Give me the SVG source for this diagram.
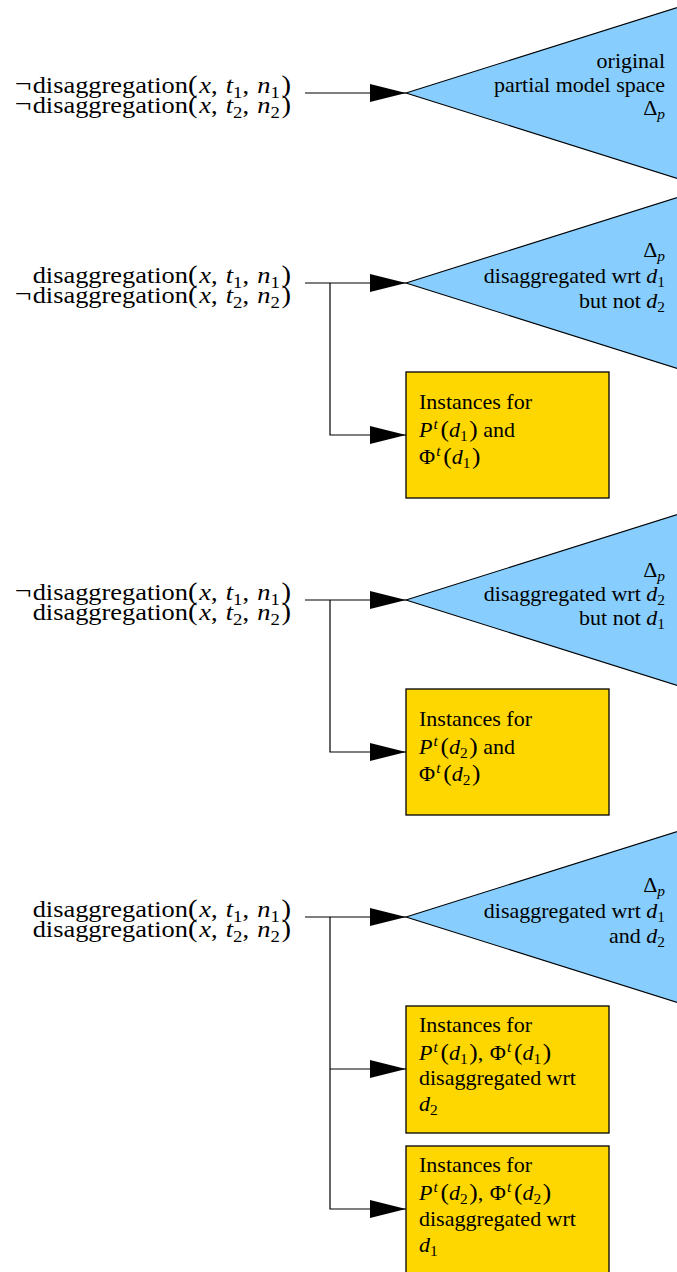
<svg xmlns="http://www.w3.org/2000/svg" width="677" height="1272" viewBox="0 0 677 1272">
  <style>
    text { font-family: 'Liberation Serif', 'Times New Roman', serif; fill: #000; }
    .lbl { font-size: 24px; }
    .txt { font-size: 20px; }
    .i { font-style: italic; }
    .sl { font-size: 17px; }
    .sx { font-size: 14px; }
    .pl { font-size: 26px; }
    .px { font-size: 23px; }
    .neg { font-size: 27px; }
    .tri { fill: #87CEFF; stroke: #000; stroke-width: 1.1; }
    .box { fill: #FFD700; stroke: #000; stroke-width: 1.3; }
    .conn path { fill: none; stroke: #000; stroke-width: 1.2; marker-end: url(#head); }
  </style>
  <defs>
    <marker id="head" markerUnits="userSpaceOnUse" markerWidth="36" markerHeight="18" refX="36" refY="9" orient="auto">
      <path d="M0,0 L36,9 L0,18 z" fill="#000"/>
    </marker>
  </defs>

  <rect width="677" height="1272" fill="#fff"/>

  <!-- condition labels: text block stretched horizontally, right edge at x=291 -->
  <g id="cond1" transform="translate(291 0) scale(1.1 1)">
    <text class="lbl" text-anchor="end" y="93"><tspan class="neg">¬</tspan><tspan dx="1">disaggregation</tspan><tspan class="pl">(</tspan><tspan class="i" dx="1.5">x</tspan>, <tspan class="i" dx="1.5">t</tspan><tspan class="sl" dy="5">1</tspan><tspan dy="-5">, </tspan><tspan class="i" dx="1.5">n</tspan><tspan class="sl" dy="5">1</tspan><tspan class="pl" dy="-5" dx="1.5">)</tspan></text>
    <text class="lbl" text-anchor="end" y="113"><tspan class="neg">¬</tspan><tspan dx="1">disaggregation</tspan><tspan class="pl">(</tspan><tspan class="i" dx="1.5">x</tspan>, <tspan class="i" dx="1.5">t</tspan><tspan class="sl" dy="5">2</tspan><tspan dy="-5">, </tspan><tspan class="i" dx="1.5">n</tspan><tspan class="sl" dy="5">2</tspan><tspan class="pl" dy="-5" dx="1.5">)</tspan></text>
  </g>
  <g id="cond2" transform="translate(291 0) scale(1.1 1)">
    <text class="lbl" text-anchor="end" y="283">disaggregation<tspan class="pl">(</tspan><tspan class="i" dx="1.5">x</tspan>, <tspan class="i" dx="1.5">t</tspan><tspan class="sl" dy="5">1</tspan><tspan dy="-5">, </tspan><tspan class="i" dx="1.5">n</tspan><tspan class="sl" dy="5">1</tspan><tspan class="pl" dy="-5" dx="1.5">)</tspan></text>
    <text class="lbl" text-anchor="end" y="303"><tspan class="neg">¬</tspan><tspan dx="1">disaggregation</tspan><tspan class="pl">(</tspan><tspan class="i" dx="1.5">x</tspan>, <tspan class="i" dx="1.5">t</tspan><tspan class="sl" dy="5">2</tspan><tspan dy="-5">, </tspan><tspan class="i" dx="1.5">n</tspan><tspan class="sl" dy="5">2</tspan><tspan class="pl" dy="-5" dx="1.5">)</tspan></text>
  </g>
  <g id="cond3" transform="translate(291 0) scale(1.1 1)">
    <text class="lbl" text-anchor="end" y="600"><tspan class="neg">¬</tspan><tspan dx="1">disaggregation</tspan><tspan class="pl">(</tspan><tspan class="i" dx="1.5">x</tspan>, <tspan class="i" dx="1.5">t</tspan><tspan class="sl" dy="5">1</tspan><tspan dy="-5">, </tspan><tspan class="i" dx="1.5">n</tspan><tspan class="sl" dy="5">1</tspan><tspan class="pl" dy="-5" dx="1.5">)</tspan></text>
    <text class="lbl" text-anchor="end" y="620">disaggregation<tspan class="pl">(</tspan><tspan class="i" dx="1.5">x</tspan>, <tspan class="i" dx="1.5">t</tspan><tspan class="sl" dy="5">2</tspan><tspan dy="-5">, </tspan><tspan class="i" dx="1.5">n</tspan><tspan class="sl" dy="5">2</tspan><tspan class="pl" dy="-5" dx="1.5">)</tspan></text>
  </g>
  <g id="cond4" transform="translate(291 0) scale(1.1 1)">
    <text class="lbl" text-anchor="end" y="917">disaggregation<tspan class="pl">(</tspan><tspan class="i" dx="1.5">x</tspan>, <tspan class="i" dx="1.5">t</tspan><tspan class="sl" dy="5">1</tspan><tspan dy="-5">, </tspan><tspan class="i" dx="1.5">n</tspan><tspan class="sl" dy="5">1</tspan><tspan class="pl" dy="-5" dx="1.5">)</tspan></text>
    <text class="lbl" text-anchor="end" y="937">disaggregation<tspan class="pl">(</tspan><tspan class="i" dx="1.5">x</tspan>, <tspan class="i" dx="1.5">t</tspan><tspan class="sl" dy="5">2</tspan><tspan dy="-5">, </tspan><tspan class="i" dx="1.5">n</tspan><tspan class="sl" dy="5">2</tspan><tspan class="pl" dy="-5" dx="1.5">)</tspan></text>
  </g>

  <!-- model spaces -->
  <g id="space1">
    <polygon class="tri" points="406,93 682,6 682,180"/>
    <g transform="translate(665 0) scale(1.1 1)">
      <text class="txt" text-anchor="end" y="68">original</text>
      <text class="txt" text-anchor="end" y="92">partial model space</text>
      <text class="txt" text-anchor="end" y="115">Δ<tspan class="sx i" dy="4">p</tspan></text>
    </g>
  </g>
  <g id="space2">
    <polygon class="tri" points="406,283 682,196 682,370"/>
    <g transform="translate(665 0) scale(1.1 1)">
      <text class="txt" text-anchor="end" y="257">Δ<tspan class="sx i" dy="4">p</tspan></text>
      <text class="txt" text-anchor="end" y="283">disaggregated wrt <tspan class="i">d</tspan><tspan class="sx" dy="4">1</tspan></text>
      <text class="txt" text-anchor="end" y="308">but not <tspan class="i">d</tspan><tspan class="sx" dy="4">2</tspan></text>
    </g>
  </g>
  <g id="space3">
    <polygon class="tri" points="406,600 682,513 682,687"/>
    <g transform="translate(665 0) scale(1.1 1)">
      <text class="txt" text-anchor="end" y="577">Δ<tspan class="sx i" dy="4">p</tspan></text>
      <text class="txt" text-anchor="end" y="601.5">disaggregated wrt <tspan class="i">d</tspan><tspan class="sx" dy="4">2</tspan></text>
      <text class="txt" text-anchor="end" y="625">but not <tspan class="i">d</tspan><tspan class="sx" dy="4">1</tspan></text>
    </g>
  </g>
  <g id="space4">
    <polygon class="tri" points="406,917 682,830 682,1004"/>
    <g transform="translate(665 0) scale(1.1 1)">
      <text class="txt" text-anchor="end" y="892">Δ<tspan class="sx i" dy="4">p</tspan></text>
      <text class="txt" text-anchor="end" y="918">disaggregated wrt <tspan class="i">d</tspan><tspan class="sx" dy="4">1</tspan></text>
      <text class="txt" text-anchor="end" y="943">and <tspan class="i">d</tspan><tspan class="sx" dy="4">2</tspan></text>
    </g>
  </g>

  <!-- instance boxes -->
  <g id="inst1">
    <rect class="box" x="406" y="372" width="203" height="126"/>
    <g transform="translate(419 0) scale(1.1 1)">
      <text class="txt" y="409">Instances for</text>
      <text class="txt" y="437"><tspan class="i">P</tspan><tspan class="sx i" dy="-8" dx="1">t</tspan><tspan class="px" dy="8" dx="2.5">(</tspan><tspan class="i">d</tspan><tspan class="sx" dy="4">1</tspan><tspan class="px" dy="-4" dx="1.5">)</tspan> and</text>
      <text class="txt" y="464">Φ<tspan class="sx i" dy="-8" dx="1">t</tspan><tspan class="px" dy="8" dx="2.5">(</tspan><tspan class="i">d</tspan><tspan class="sx" dy="4">1</tspan><tspan class="px" dy="-4" dx="1.5">)</tspan></text>
    </g>
  </g>
  <g id="inst2">
    <rect class="box" x="406" y="689" width="203" height="126"/>
    <g transform="translate(419 0) scale(1.1 1)">
      <text class="txt" y="726">Instances for</text>
      <text class="txt" y="754"><tspan class="i">P</tspan><tspan class="sx i" dy="-8" dx="1">t</tspan><tspan class="px" dy="8" dx="2.5">(</tspan><tspan class="i">d</tspan><tspan class="sx" dy="4">2</tspan><tspan class="px" dy="-4" dx="1.5">)</tspan> and</text>
      <text class="txt" y="781">Φ<tspan class="sx i" dy="-8" dx="1">t</tspan><tspan class="px" dy="8" dx="2.5">(</tspan><tspan class="i">d</tspan><tspan class="sx" dy="4">2</tspan><tspan class="px" dy="-4" dx="1.5">)</tspan></text>
    </g>
  </g>
  <g id="inst3">
    <rect class="box" x="406" y="1006" width="203" height="127"/>
    <g transform="translate(419 0) scale(1.1 1)">
      <text class="txt" y="1032">Instances for</text>
      <text class="txt" y="1060"><tspan class="i">P</tspan><tspan class="sx i" dy="-8" dx="1">t</tspan><tspan class="px" dy="8" dx="2.5">(</tspan><tspan class="i">d</tspan><tspan class="sx" dy="4">1</tspan><tspan class="px" dy="-4" dx="1.5">)</tspan>, <tspan dx="1">Φ</tspan><tspan class="sx i" dy="-8" dx="1">t</tspan><tspan class="px" dy="8" dx="2.5">(</tspan><tspan class="i">d</tspan><tspan class="sx" dy="4">1</tspan><tspan class="px" dy="-4" dx="1.5">)</tspan></text>
      <text class="txt" y="1085">disaggregated wrt</text>
      <text class="txt" y="1111"><tspan class="i">d</tspan><tspan class="sx" dy="4">2</tspan></text>
    </g>
  </g>
  <g id="inst4">
    <rect class="box" x="406" y="1146" width="203" height="140"/>
    <g transform="translate(419 0) scale(1.1 1)">
      <text class="txt" y="1172">Instances for</text>
      <text class="txt" y="1200"><tspan class="i">P</tspan><tspan class="sx i" dy="-8" dx="1">t</tspan><tspan class="px" dy="8" dx="2.5">(</tspan><tspan class="i">d</tspan><tspan class="sx" dy="4">2</tspan><tspan class="px" dy="-4" dx="1.5">)</tspan>, <tspan dx="1">Φ</tspan><tspan class="sx i" dy="-8" dx="1">t</tspan><tspan class="px" dy="8" dx="2.5">(</tspan><tspan class="i">d</tspan><tspan class="sx" dy="4">2</tspan><tspan class="px" dy="-4" dx="1.5">)</tspan></text>
      <text class="txt" y="1226">disaggregated wrt</text>
      <text class="txt" y="1252"><tspan class="i">d</tspan><tspan class="sx" dy="4">1</tspan></text>
    </g>
  </g>

  <!-- connectors -->
  <g id="connectors" class="conn">
    <path d="M305,93 H406"/>
    <path d="M305,283 H406"/>
    <path d="M330,283 V435 H406"/>
    <path d="M305,600 H406"/>
    <path d="M330,600 V752 H406"/>
    <path d="M305,917 H406"/>
    <path d="M330,917 V1209 H406"/>
    <path d="M330,1069 H406"/>
  </g>
</svg>
